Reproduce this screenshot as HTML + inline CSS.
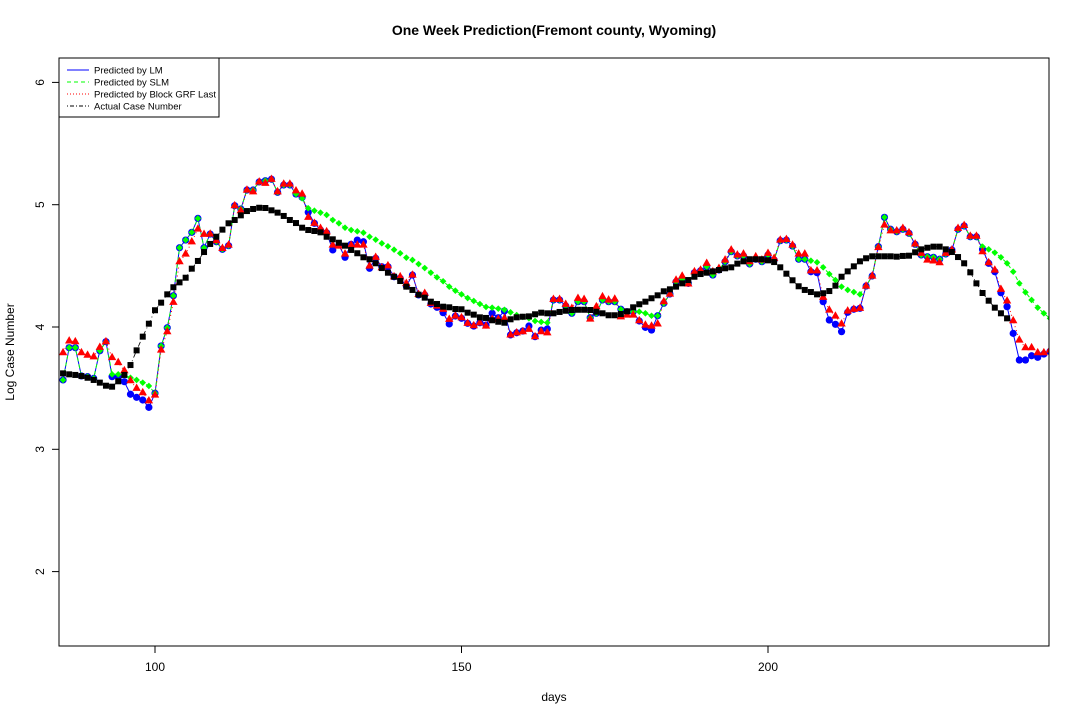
<!DOCTYPE html>
<html><head><meta charset="utf-8">
<style>
body{margin:0;background:#fff;}
svg{display:block;font-family:"Liberation Sans",sans-serif;}
</style></head>
<body>
<svg id="chart" width="1080" height="720" viewBox="0 0 1080 720" xmlns="http://www.w3.org/2000/svg">
<defs><clipPath id="plotclip"><rect x="59" y="58" width="990" height="588"/></clipPath></defs>
<rect width="1080" height="720" fill="#fff"/>
<text x="554" y="35" text-anchor="middle" font-size="14" font-weight="bold">One Week Prediction(Fremont county, Wyoming)</text>
<text x="554" y="701" text-anchor="middle" font-size="12">days</text>
<text transform="translate(14,352) rotate(-90)" text-anchor="middle" font-size="12">Log Case Number</text>
<g id="axes"></g>
<g id="series" clip-path="url(#plotclip)"></g>
<rect x="59" y="58" width="990" height="588" fill="none" stroke="#000" stroke-width="1"/>
<g id="legend"></g>
</svg>
<script>
const startDay = 85;
const actualStart = 85;
const xTicks = [100, 150, 200];
const yTicks = [2, 3, 4, 5, 6];
const legendLabels = ["Predicted by LM", "Predicted by SLM", "Predicted by Block GRF Last", "Actual Case Number"];
const actualValues = [3.621,3.613,3.608,3.599,3.585,3.567,3.545,3.520,3.512,3.556,3.608,3.689,3.809,3.921,4.027,4.137,4.199,4.267,4.325,4.365,4.403,4.477,4.540,4.613,4.679,4.738,4.796,4.848,4.875,4.913,4.948,4.965,4.975,4.973,4.954,4.935,4.908,4.875,4.850,4.812,4.793,4.785,4.774,4.738,4.717,
4.689,4.665,4.630,4.603,4.570,4.554,4.521,4.482,4.444,4.411,4.376,4.330,4.303,4.264,4.240,4.207,4.188,4.166,4.161,4.147,4.145,4.117,4.101,4.079,4.074,4.055,4.043,4.035,4.063,4.079,4.084,4.087,4.104,4.117,4.112,4.112,4.123,4.133,4.139,4.141,4.141,4.139,4.125,4.112,4.096,
4.096,4.106,4.128,4.161,4.186,4.207,4.235,4.259,4.292,4.308,4.330,4.357,4.384,4.411,4.433,4.444,4.455,4.466,4.480,4.488,4.518,4.537,4.554,4.554,4.554,4.545,4.531,4.488,4.436,4.382,4.333,4.303,4.286,4.267,4.276,4.294,4.338,4.411,4.455,
4.496,4.537,4.562,4.578,4.578,4.578,4.578,4.575,4.581,4.583,4.611,4.635,4.648,4.657,4.657,4.635,4.613,4.572,4.521,4.447,4.357,4.278,4.215,4.158,4.112,4.071];
const lmValues = [3.567,3.831,3.831,3.60,3.594,3.58,3.806,3.88,3.594,3.594,3.553,3.45,3.425,3.403,3.343,3.458,3.845,3.994,4.256,4.648,4.711,4.774,4.888,4.648,4.76,4.697,4.635,4.665,4.992,4.965,5.12,5.12,5.186,5.196,5.208,5.101,5.161,5.161,5.087,5.06,4.938,4.848,4.793,4.77,4.63,
4.67,4.57,4.676,4.711,4.697,4.48,4.562,4.493,4.493,4.411,4.398,4.335,4.425,4.262,4.262,4.188,4.161,4.117,4.025,4.09,4.071,4.03,4.008,4.035,4.016,4.112,4.076,4.131,3.935,3.953,3.967,4.008,3.921,3.975,3.984,4.221,4.221,4.172,4.112,4.207,4.207,4.076,4.112,4.221,4.207,
4.207,4.145,4.125,4.125,4.049,3.997,3.975,4.092,4.194,4.27,4.37,4.39,4.357,4.444,4.46,4.493,4.425,4.466,4.534,4.616,4.581,4.581,4.515,4.554,4.534,4.589,4.548,4.706,4.711,4.662,4.554,4.554,4.452,4.444,4.207,4.057,4.022,3.962,4.12,
4.145,4.153,4.335,4.417,4.657,4.897,4.799,4.779,4.799,4.766,4.676,4.589,4.575,4.57,4.554,4.597,4.63,4.799,4.826,4.738,4.738,4.635,4.521,4.452,4.28,4.166,3.948,3.73,3.73,3.765,3.752,3.779,3.80];
const slmValues = [3.567,3.831,3.831,3.60,3.594,3.58,3.806,3.88,3.613,3.613,3.608,3.585,3.567,3.545,3.518,3.458,3.845,3.994,4.256,4.648,4.711,4.774,4.888,4.648,4.76,4.697,4.635,4.665,4.992,4.965,5.12,5.12,5.186,5.196,5.208,5.101,5.161,5.161,5.087,5.052,4.971,4.951,4.935,4.916,4.875,
4.848,4.812,4.793,4.782,4.771,4.738,4.714,4.684,4.660,4.632,4.603,4.567,4.548,4.515,4.482,4.444,4.406,4.374,4.330,4.297,4.267,4.237,4.213,4.188,4.164,4.158,4.150,4.141,4.120,4.098,4.082,4.071,4.049,4.041,4.035,4.221,4.221,4.172,4.112,4.207,4.207,4.076,4.112,4.221,4.207,
4.207,4.145,4.125,4.125,4.125,4.112,4.092,4.092,4.194,4.27,4.37,4.39,4.357,4.444,4.46,4.493,4.425,4.466,4.534,4.616,4.581,4.581,4.515,4.554,4.534,4.589,4.548,4.706,4.711,4.662,4.554,4.554,4.542,4.529,4.488,4.433,4.384,4.33,4.303,
4.286,4.267,4.335,4.417,4.657,4.897,4.799,4.779,4.799,4.766,4.676,4.589,4.575,4.57,4.554,4.597,4.63,4.799,4.826,4.738,4.738,4.657,4.635,4.608,4.57,4.521,4.452,4.357,4.284,4.221,4.158,4.112,4.071];
const grfValues = [3.79,3.886,3.88,3.79,3.77,3.757,3.834,3.88,3.75,3.71,3.643,3.561,3.499,3.463,3.397,3.444,3.812,3.962,4.202,4.534,4.597,4.697,4.801,4.758,4.76,4.706,4.643,4.67,4.992,4.951,5.12,5.106,5.186,5.175,5.208,5.106,5.169,5.169,5.114,5.087,4.897,4.848,4.807,4.779,4.67,
4.662,4.597,4.67,4.67,4.67,4.499,4.57,4.485,4.501,4.411,4.411,4.357,4.425,4.267,4.276,4.194,4.172,4.145,4.063,4.09,4.076,4.03,4.011,4.035,4.008,4.063,4.063,4.071,3.935,3.953,3.962,3.981,3.921,3.962,3.953,4.226,4.226,4.186,4.153,4.235,4.226,4.065,4.166,4.248,4.221,
4.229,4.084,4.098,4.098,4.052,4.016,4.008,4.025,4.207,4.27,4.384,4.417,4.352,4.452,4.466,4.521,4.452,4.48,4.548,4.63,4.589,4.597,4.534,4.575,4.548,4.603,4.562,4.711,4.716,4.67,4.597,4.597,4.46,4.46,4.243,4.139,4.09,4.025,4.131,
4.145,4.153,4.335,4.417,4.65,4.834,4.787,4.787,4.807,4.771,4.679,4.603,4.548,4.54,4.526,4.603,4.63,4.807,4.831,4.743,4.743,4.616,4.526,4.466,4.308,4.213,4.052,3.894,3.831,3.831,3.79,3.79,3.812];

const NS = "http://www.w3.org/2000/svg";
function xScale(d){ return 155 + (d - 100) * 6.13; }
function yScale(v){ return 327 - (v - 4) * 122.3; }
function mk(tag, attrs, parent){
  const e = document.createElementNS(NS, tag);
  for (const k in attrs) e.setAttribute(k, attrs[k]);
  parent.appendChild(e);
  return e;
}
const axes = document.getElementById('axes');
xTicks.forEach(t => {
  const l = mk('line', {x1: xScale(t), x2: xScale(t), y1: 646, y2: 653, stroke: '#000'}, axes);
  
  
  const tx = mk('text', {x: xScale(t), y: 671, 'text-anchor': 'middle', 'font-size': 12}, axes);
  
  
  tx.textContent = t;
});
yTicks.forEach(t => {
  const l = mk('line', {x1: 52, x2: 59, y1: yScale(t), y2: yScale(t), stroke: '#000'}, axes);
  
  
  const tx = mk('text', {transform: 'translate(44,' + yScale(t) + ') rotate(-90)', 'text-anchor': 'middle', 'font-size': 12}, axes);
  
  
  tx.textContent = t;
});

const series = document.getElementById('series');
function linePath(vals, start){
  return vals.map((v, i) => (i ? 'L' : 'M') + xScale(start + i).toFixed(1) + ',' + yScale(v).toFixed(1)).join(' ');
}
const lmLine = mk('path', {d: linePath(lmValues, startDay), fill: 'none', stroke: '#0000ff', 'stroke-width': 1}, series);


const slmLine = mk('path', {d: linePath(slmValues, startDay), fill: 'none', stroke: '#00ff00', 'stroke-width': 1, 'stroke-dasharray': '4,3'}, series);


const grfLine = mk('path', {d: linePath(grfValues, startDay), fill: 'none', stroke: '#ff0000', 'stroke-width': 1, 'stroke-dasharray': '1,3'}, series);


const actLine = mk('path', {d: linePath(actualValues, actualStart), fill: 'none', stroke: '#000', 'stroke-width': 0.8, 'stroke-dasharray': '1,3,5,3'}, series);



lmValues.forEach((v, i) => {
  const c = mk('circle', {cx: xScale(startDay + i), cy: yScale(v), r: 3.6, fill: '#0000ff'}, series);
  
  
});
slmValues.forEach((v, i) => {
  const x = xScale(startDay + i), y = yScale(v);
  const p = mk('polygon', {points: [x, y-3.3, x+3.3, y, x, y+3.3, x-3.3, y].join(' '), fill: '#00ff00'}, series);
  
  
});
grfValues.forEach((v, i) => {
  const x = xScale(startDay + i), y = yScale(v);
  const p = mk('polygon', {points: [x, y-4.8, x+4.2, y+2.6, x-4.2, y+2.6].join(' '), fill: '#ff0000'}, series);
  
  
});
actualValues.forEach((v, i) => {
  const x = xScale(actualStart + i), y = yScale(v);
  const r = mk('rect', {x: x - 3, y: y - 3, width: 6, height: 6, fill: '#000'}, series);
  
  
});

const legend = document.getElementById('legend');
const lbox = mk('rect', {x: 59, y: 58, width: 160, height: 59, fill: '#fff', stroke: '#000'}, legend);


const legendStyles = [
  {stroke: '#0000ff', dash: ''},
  {stroke: '#00ff00', dash: '4,3'},
  {stroke: '#ff0000', dash: '1,2'},
  {stroke: '#000', dash: '1,2,4,2'}
];
legendLabels.forEach((lab, i) => {
  const y = 70 + i * 12;
  const ln = mk('line', {x1: 67, x2: 89, y1: y, y2: y, stroke: legendStyles[i].stroke, 'stroke-dasharray': legendStyles[i].dash}, legend);
  
  
  const t = mk('text', {x: 94, y: y + 3.5, 'font-size': 9.5}, legend);
  
  
  t.textContent = lab;
});
</script>
</body></html>
